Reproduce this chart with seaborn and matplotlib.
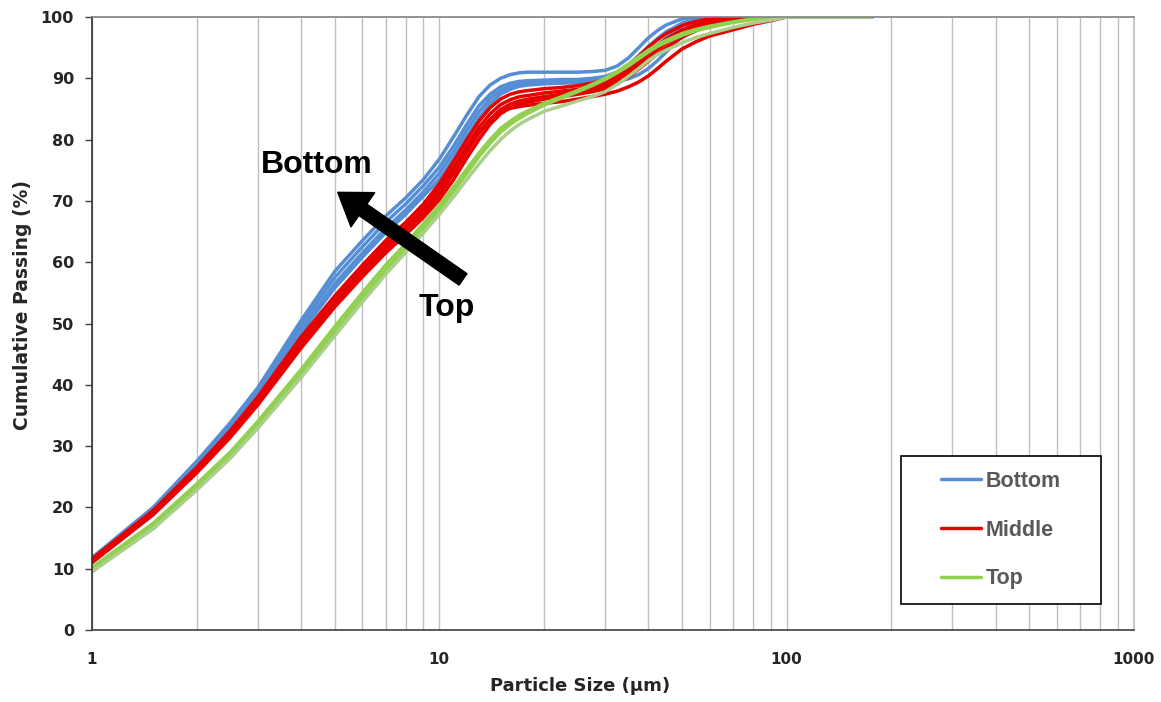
import numpy as np
import pandas as pd
import matplotlib
matplotlib.use("Agg")
import matplotlib.pyplot as plt
from matplotlib.lines import Line2D
from matplotlib.patches import Rectangle
from matplotlib.ticker import FixedLocator, LogLocator, NullFormatter
import seaborn as sns

# ---------------- data ----------------
sizes = [1, 1.5, 2, 2.5, 3, 4, 5, 6, 7, 8, 9, 10, 11, 12, 13,
         14, 15, 16, 17, 18,
         20, 22.5, 25, 27.5, 30,
         32.5, 35, 37.5, 40, 42.5,
         45, 50, 55, 60, 70,
         80, 90, 100, 176]

bottom_1 = [11.8, 20.0, 27.5, 33.8, 39.5, 50.5, 58.5, 63.5, 67.5, 70.5, 73.5, 76.8, 80.5, 84.0, 87.0,
            88.9, 90.0, 90.6, 90.9, 91.0,
            91.0, 91.0, 91.0, 91.1, 91.3,
            92.0, 93.3, 95.0, 96.6, 97.8,
            98.7, 99.7, 100, 100, 100,
            100, 100, 100, 100]
bottom_2 = [11.5, 19.6, 27.0, 33.2, 39.0, 49.8, 57.5, 62.5, 66.5, 69.5, 72.5, 75.5, 79.0, 82.5, 85.5,
            87.4, 88.6, 89.2, 89.5, 89.6,
            89.7, 89.8, 89.8, 90.0, 90.3,
            91.0, 92.2, 93.7, 95.2, 96.5,
            97.6, 99.0, 99.7, 100, 100,
            100, 100, 100, 100]
bottom_3 = [11.2, 19.2, 26.6, 32.8, 38.5, 49.0, 56.5, 61.5, 65.5, 68.5, 71.5, 74.5, 78.0, 81.5, 84.5,
            86.7, 88.0, 88.7, 89.0, 89.2,
            89.4, 89.5, 89.6, 89.7, 89.9,
            90.4, 91.3, 92.6, 94.0, 95.4,
            96.6, 98.6, 99.5, 99.9, 100,
            100, 100, 100, 100]
bottom_4 = [11.0, 19.0, 26.3, 32.4, 38.0, 48.5, 55.8, 60.8, 64.8, 67.8, 70.8, 73.5, 77.0, 80.5, 83.5,
            85.9, 87.4, 88.2, 88.7, 88.9,
            89.1, 89.2, 89.3, 89.4, 89.5,
            89.6, 89.9, 90.6, 91.6, 92.9,
            94.3, 96.9, 98.6, 99.5, 100,
            100, 100, 100, 100]

middle_1 = [11.6, 19.5, 26.5, 32.5, 38.0, 47.8, 54.5, 59.5, 63.5, 66.5, 69.5, 72.8, 76.5, 80.0, 83.0,
            85.2, 86.6, 87.4, 87.8, 88.0,
            88.3, 88.5, 88.8, 89.2, 89.8,
            90.7, 92.0, 93.6, 95.1, 96.3,
            97.3, 98.6, 99.3, 99.7, 100,
            100, 100, 100, 100]
middle_2 = [11.4, 19.2, 26.2, 32.0, 37.5, 47.0, 53.8, 58.8, 62.8, 65.8, 68.8, 72.0, 75.5, 79.0, 82.0,
            84.2, 85.7, 86.5, 87.0, 87.2,
            87.6, 87.9, 88.2, 88.7, 89.3,
            90.2, 91.4, 92.8, 94.2, 95.4,
            96.4, 97.9, 98.8, 99.3, 99.8,
            100, 100, 100, 100]
middle_3 = [11.2, 19.0, 25.9, 31.7, 37.1, 46.5, 53.2, 58.2, 62.2, 65.2, 68.0, 71.0, 74.5, 78.0, 81.0,
            83.3, 84.9, 85.8, 86.3, 86.6,
            87.0, 87.4, 87.8, 88.2, 88.8,
            89.6, 90.8, 92.2, 93.5, 94.7,
            95.7, 97.3, 98.3, 99.0, 99.7,
            100, 100, 100, 100]
middle_4 = [11.0, 18.8, 25.6, 31.4, 36.7, 46.0, 52.7, 57.6, 61.5, 64.5, 67.3, 70.2, 73.5, 77.0, 80.0,
            82.5, 84.2, 85.2, 85.8, 86.1,
            86.6, 87.0, 87.4, 87.8, 88.3,
            89.1, 90.2, 91.5, 92.8, 94.0,
            95.0, 96.7, 97.8, 98.6, 99.5,
            99.9, 100, 100, 100]
middle_5 = [11.3, 19.1, 26.0, 31.8, 37.2, 46.8, 53.5, 58.5, 62.5, 65.5, 68.3, 71.3, 74.8, 78.3, 81.2,
            83.2, 84.5, 85.1, 85.4, 85.6,
            85.9, 86.2, 86.6, 87.0, 87.4,
            87.9, 88.6, 89.4, 90.4, 91.6,
            92.8, 94.8, 96.0, 96.9, 97.9,
            98.8, 99.4, 100, 100]

top_1 = [10.2, 17.4, 23.8, 29.0, 34.0, 42.5, 49.5, 55.0, 59.5, 63.0, 66.3, 69.3, 72.3, 75.2, 77.8,
         80.0, 81.8, 83.0, 84.0, 84.7,
         85.9, 87.0, 88.0, 89.0, 90.0,
         91.1, 92.3, 93.5, 94.6, 95.5,
         96.2, 97.3, 98.0, 98.5, 99.2,
         99.7, 100, 100, 100]
top_2 = [9.8, 16.9, 23.2, 28.5, 33.4, 41.8, 48.7, 54.2, 58.7, 62.3, 65.6, 68.6, 71.6, 74.5, 77.2,
         79.4, 81.2, 82.5, 83.5, 84.3,
         85.6, 86.8, 87.8, 88.8, 89.8,
         90.9, 92.0, 93.2, 94.3, 95.2,
         95.9, 97.0, 97.8, 98.3, 99.1,
         99.6, 99.9, 100, 100]
top_3 = [9.5, 16.5, 22.8, 28.0, 32.9, 41.2, 48.0, 53.5, 58.0, 61.6, 64.8, 67.8, 70.7, 73.5, 76.0,
         78.2, 80.0, 81.4, 82.5, 83.3,
         84.6, 85.5, 86.3, 87.0, 87.8,
         89.0, 90.3, 91.6, 92.9, 93.9,
         94.6, 95.8, 96.7, 97.3, 98.3,
         99.0, 99.5, 100, 100]

groups = ["Bottom", "Middle", "Top"]
x_tick_values = [1, 10, 100, 1000]
x_tick_labels = ["1", "10", "100", "1000"]
y_tick_values = [0, 10, 20, 30, 40, 50, 60, 70, 80, 90, 100]

curves = {
    "B1": ("Bottom", bottom_1), "B2": ("Bottom", bottom_2), "B3": ("Bottom", bottom_3), "B4": ("Bottom", bottom_4),
    "M1": ("Middle", middle_1), "M2": ("Middle", middle_2), "M3": ("Middle", middle_3),
    "M4": ("Middle", middle_4), "M5": ("Middle", middle_5),
    "T1": ("Top", top_1), "T2": ("Top", top_2), "T3": ("Top", top_3),
}

rows = []
for cid, (grp, vals) in curves.items():
    for s, v in zip(sizes, vals):
        rows.append({"curve": cid, "group": grp, "size": s, "passing": v})
df = pd.DataFrame(rows)

# ---------------- style ----------------
BLUE, RED, GREEN, LGREEN = "#558ED5", "#E60000", "#92D050", "#A9CF8A"
group_colors = {"Bottom": BLUE, "Middle": RED, "Top": GREEN}
curve_palette = {cid: group_colors[g] for cid, (g, _) in curves.items()}
curve_palette["T3"] = LGREEN

sns.set_style("white")
plt.rcParams["font.family"] = ["DejaVu Sans"]

fig = plt.figure(figsize=(11.61, 7.02), dpi=100)
ax = fig.add_axes([92 / 1161, 1 - 630 / 702, (1134 - 92) / 1161, (630 - 17) / 702])

sns.lineplot(data=df, x="size", y="passing", hue="curve", units="curve", estimator=None,
             palette=curve_palette, hue_order=list(curves.keys()), linewidth=2.5,
             legend=False, sort=True, ax=ax)
for ln in ax.get_lines():
    ln.set_solid_joinstyle("round")

ax.set_xscale("log")
ax.set_xlim(1, 1000)
ax.set_ylim(0, 100)

ax.xaxis.set_major_locator(FixedLocator(x_tick_values))
ax.set_xticklabels(x_tick_labels)
ax.xaxis.set_minor_locator(LogLocator(base=10, subs=np.arange(2, 10)))
ax.xaxis.set_minor_formatter(NullFormatter())
ax.set_yticks(y_tick_values)
ax.set_yticklabels([str(v) for v in y_tick_values])

ax.grid(True, axis="x", which="both", color="#BFBFBF", linewidth=1.0)
ax.grid(False, axis="y")
ax.set_axisbelow(True)

for lab in ax.get_xticklabels():
    lab.set_fontweight("bold")
    lab.set_fontsize(11)
for lab in ax.get_yticklabels():
    lab.set_fontweight("bold")
    lab.set_fontsize(11.5)

ax.tick_params(axis="x", which="both", length=0, pad=16)
ax.tick_params(axis="y", which="major", length=5, width=1, color="#404040", direction="out", pad=8, left=True)

ax.spines["left"].set_color("#303030")
ax.spines["bottom"].set_color("#404040")
ax.spines["top"].set_color("#808080")
ax.spines["right"].set_color("#BFBFBF")
for sp in ax.spines.values():
    sp.set_linewidth(1.2)

ax.set_xlabel("Particle Size (µm)", fontweight="bold", fontsize=13)
ax.xaxis.set_label_coords((580 - 92) / 1042, -0.076)
ax.set_ylabel("Cumulative Passing (%)", fontweight="bold", fontsize=13.5)
ax.yaxis.set_label_coords(-0.058, 0.53)

# annotation arrow and texts
ax.annotate("", xy=(5.1, 71.4), xytext=(11.7, 57.2),
            arrowprops=dict(arrowstyle="simple,head_width=1.5,head_length=1.1,tail_width=0.5",
                            mutation_scale=20, color="black", shrinkA=0, shrinkB=0))
ax.text(4.45, 75.9, "Bottom", fontfamily=["Liberation Sans", "DejaVu Sans"], fontweight="bold",
        fontsize=23, ha="center", va="center", color="black")
ax.text(10.5, 52.6, "Top", fontfamily=["Liberation Sans", "DejaVu Sans"], fontweight="bold",
        fontsize=23, ha="center", va="center", color="black")

# legend box
bx0, by0 = (901 - 92) / 1042, (630 - 604) / 613
bw, bh = 200 / 1042, 148 / 613
box = Rectangle((bx0, by0), bw, bh, transform=ax.transAxes, facecolor="white",
                edgecolor="black", linewidth=1.2, zorder=5)
ax.add_patch(box)
handles = [Line2D([0], [0], color=group_colors[g], linewidth=2.5) for g in groups]
leg = ax.legend(handles, groups, loc="center", bbox_to_anchor=(bx0, by0, bw, bh),
                bbox_transform=ax.transAxes, frameon=False, handlelength=1.85,
                handletextpad=0.25, labelspacing=1.3, borderpad=0,
                prop={"family": ["Liberation Sans", "DejaVu Sans"], "weight": "bold", "size": 15.5})
leg.set_zorder(6)
for t in leg.get_texts():
    t.set_color("#595959")

fig.savefig("out.png", dpi=100)
